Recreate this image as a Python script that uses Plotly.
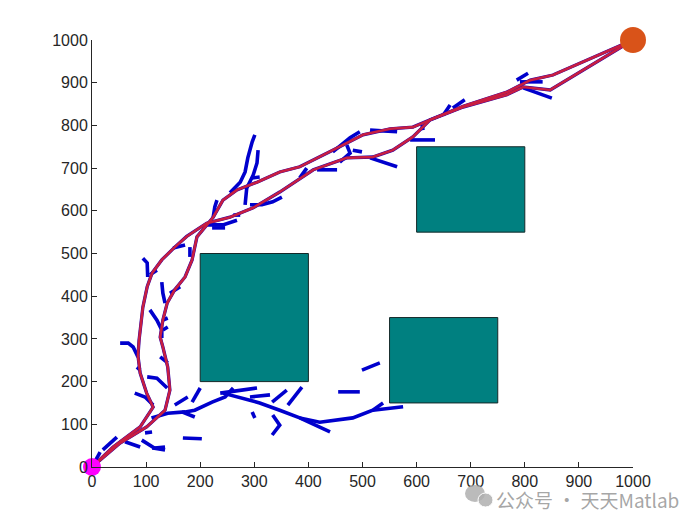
import plotly.graph_objects as go

# ---------------- data ----------------
x_ticks = [0, 100, 200, 300, 400, 500, 600, 700, 800, 900, 1000]
y_ticks = [0, 100, 200, 300, 400, 500, 600, 700, 800, 900, 1000]

start_pt = (0, 0)
goal_pt = (1000, 1000)

# obstacles: x0, y0, x1, y1
obstacles_x0 = [200, 600, 550]
obstacles_y0 = [200, 550, 150]
obstacles_x1 = [400, 800, 750]
obstacles_y1 = [500, 750, 350]

# red paths (two routes through the tree)
path_a_x = [0, 39, 89, 113, 101, 89, 85, 87, 94, 102, 111, 129, 153, 175, 212, 255, 298, 347,
            409, 471, 519, 556, 593, 625, 686, 767, 797, 847, 1000]
path_a_y = [0, 47, 94, 140, 173, 220, 260, 297, 374, 422, 454, 485, 515, 540, 571, 585, 607, 644,
            696, 724, 726, 742, 773, 813, 843, 872, 890, 883, 1000]
path_b_x = [0, 52, 101, 135, 144, 140, 131, 126, 131, 139, 153, 172, 185, 190, 194, 224, 242, 268,
            305, 347, 384, 445, 501, 551, 593, 625, 686, 767, 810, 852, 1000]
path_b_y = [0, 56, 94, 133, 180, 234, 281, 304, 344, 384, 415, 445, 485, 520, 539, 585, 625, 649,
            667, 691, 703, 742, 778, 792, 796, 813, 845, 878, 906, 918, 1000]

# blue tree branches (each a short polyline)
tree_branches = [
    [(0, 0), (15, 35)],
    [(20, 40), (46, 70)],
    [(61, 59), (79, 52), (89, 47)],
    [(92, 63), (116, 44), (135, 40)],
    [(111, 44), (135, 47)],
    [(98, 80), (111, 82)],
    [(110, 115), (140, 126), (172, 129), (190, 133), (222, 152), (246, 164), (261, 185)],
    [(242, 173), (274, 162), (310, 150), (347, 133), (384, 115), (440, 82)],
    [(384, 115), (421, 105), (482, 115), (519, 133), (538, 150)],
    [(519, 133), (575, 141)],
    [(166, 129), (190, 117)],
    [(153, 145), (177, 164)],
    [(185, 152), (200, 185)],
    [(79, 173), (98, 164), (113, 145)],
    [(102, 211), (120, 208), (139, 185)],
    [(237, 173), (255, 176), (305, 185)],
    [(292, 164), (329, 169)],
    [(333, 152), (360, 180)],
    [(362, 145), (388, 187)],
    [(296, 129), (301, 115)],
    [(334, 122), (347, 98), (333, 75)],
    [(455, 176), (495, 176)],
    [(499, 227), (532, 244)],
    [(168, 68), (203, 66)],
    [(52, 290), (67, 290), (76, 281), (85, 258)],
    [(94, 489), (102, 478), (103, 445)],
    [(107, 450), (120, 461)],
    [(129, 433), (131, 407), (135, 384)],
    [(107, 368), (120, 344), (129, 321), (129, 302)],
    [(131, 344), (140, 349)],
    [(131, 321), (140, 328)],
    [(126, 258), (140, 244)],
    [(83, 234), (89, 227)],
    [(150, 513), (172, 520)],
    [(181, 515), (181, 492)],
    [(144, 407), (163, 422)],
    [(255, 642), (264, 653), (274, 667), (283, 691), (288, 724), (296, 761), (301, 778)],
    [(283, 614), (286, 653), (298, 684), (305, 712), (307, 742)],
    [(231, 625), (227, 609), (224, 585)],
    [(261, 590), (274, 590)],
    [(213, 567), (242, 567), (268, 578)],
    [(222, 560), (246, 560)],
    [(292, 614), (314, 614), (334, 621), (351, 632)],
    [(296, 677), (310, 679)],
    [(445, 738), (464, 759), (477, 771), (495, 785)],
    [(471, 754), (477, 735), (458, 714)],
    [(482, 742), (499, 738)],
    [(514, 724), (564, 703)],
    [(514, 789), (564, 785)],
    [(588, 766), (634, 766)],
    [(612, 789), (610, 801)],
    [(649, 824), (662, 848)],
    [(667, 841), (689, 860)],
    [(397, 700), (384, 677)],
    [(416, 696), (453, 696)],
    [(785, 906), (806, 922)],
    [(791, 902), (833, 902)],
    [(797, 888), (850, 864)],
]

# ---------------- figure ----------------
fig = go.Figure()

# obstacles
for x0, y0, x1, y1 in zip(obstacles_x0, obstacles_y0, obstacles_x1, obstacles_y1):
    fig.add_trace(go.Scatter(
        x=[x0, x1, x1, x0, x0], y=[y0, y0, y1, y1, y0],
        mode="lines", fill="toself", fillcolor="rgb(0,128,128)",
        line=dict(color="rgb(20,40,40)", width=1), hoverinfo="skip", showlegend=False))

# tree branches (blue)
tx, ty = [], []
for br in tree_branches:
    for (px, py) in br:
        tx.append(px)
        ty.append(py)
    tx.append(None)
    ty.append(None)
fig.add_trace(go.Scatter(x=tx, y=ty, mode="lines",
                         line=dict(color="rgb(0,0,205)", width=3.6),
                         hoverinfo="skip", showlegend=False))

# tree edges under the paths (blue, thin rim)
for px_, py_ in [(path_a_x, path_a_y), (path_b_x, path_b_y)]:
    fig.add_trace(go.Scatter(x=px_, y=py_, mode="lines",
                             line=dict(color="rgb(40,0,170)", width=3.3),
                             hoverinfo="skip", showlegend=False))

# paths (red)
for px_, py_ in [(path_a_x, path_a_y), (path_b_x, path_b_y)]:
    fig.add_trace(go.Scatter(x=px_, y=py_, mode="lines",
                             line=dict(color="rgb(200,30,65)", width=2.6),
                             hoverinfo="skip", showlegend=False))

# start / goal
fig.add_trace(go.Scatter(x=[start_pt[0]], y=[start_pt[1]], mode="markers",
                         marker=dict(color="rgb(255,0,255)", size=18, line=dict(width=0)),
                         cliponaxis=False, showlegend=False))
fig.add_trace(go.Scatter(x=[goal_pt[0]], y=[goal_pt[1]], mode="markers",
                         marker=dict(color="rgb(217,83,25)", size=26, line=dict(width=0)),
                         cliponaxis=False, showlegend=False))

axis_common = dict(
    range=[0, 1000], showgrid=False, zeroline=False,
    showline=True, linecolor="rgb(38,38,38)", linewidth=1,
    ticks="inside", ticklen=5, tickcolor="rgb(38,38,38)",
    tickfont=dict(family="Arial, Liberation Sans", size=16, color="rgb(38,38,38)"),
    fixedrange=True,
)
fig.update_xaxes(tickvals=x_ticks, ticktext=[str(v) for v in x_ticks], **axis_common)
fig.update_yaxes(tickvals=y_ticks, ticktext=[str(v) for v in y_ticks], **axis_common)

# watermark
fig.add_annotation(text="公众号 · 天天Matlab", xref="paper", yref="paper",
                   x=1.088, y=-0.075, xanchor="right", yanchor="middle", showarrow=False,
                   font=dict(family="Noto Sans CJK SC", size=19, color="rgba(150,150,150,0.85)"))
fig.add_shape(type="circle", xref="paper", yref="paper",
              x0=(465 - 92) / 541, x1=(485 - 92) / 541, y0=(467 - 502) / 427, y1=(467 - 485) / 427,
              fillcolor="rgba(175,175,175,0.85)", line=dict(width=0))
fig.add_shape(type="circle", xref="paper", yref="paper",
              x0=(478 - 92) / 541, x1=(493 - 92) / 541, y0=(467 - 507) / 427, y1=(467 - 493) / 427,
              fillcolor="rgba(175,175,175,0.85)", line=dict(color="white", width=1))

# the page adds an 8px body margin, so margins are offset to land the plot area
# at x 92..633, y 40..467 of the window
fig.update_layout(
    width=700, height=525,
    margin=dict(l=84, r=75, t=32, b=66),
    paper_bgcolor="white", plot_bgcolor="white",
    showlegend=False,
)

fig.write_html("out.html")
